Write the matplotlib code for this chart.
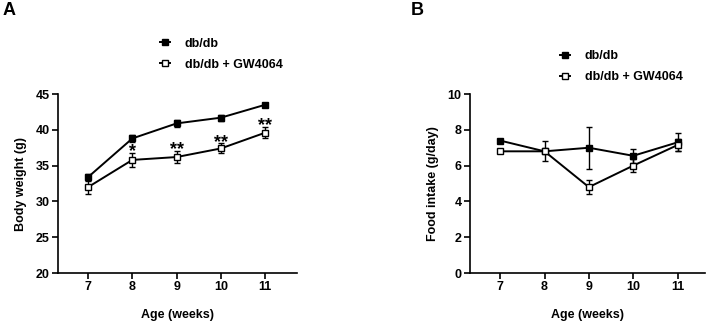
import numpy as np
import matplotlib.pyplot as plt
from matplotlib.lines import Line2D

plt.rcParams['font.family'] = ['Liberation Sans', 'DejaVu Sans']
plt.rcParams['font.weight'] = 'bold'

weeks = [7, 8, 9, 10, 11]

# body weight (g)
bw_db = [33.4, 38.8, 40.9, 41.7, 43.5]
bw_db_err = [0.5, 0.5, 0.5, 0.4, 0.3]
bw_gw = [32.0, 35.8, 36.2, 37.4, 39.6]
bw_gw_err = [1.0, 1.0, 0.8, 0.7, 0.8]
bw_stars = ['', '*', '**', '**', '**']

# food intake (g/day)
fi_db = [7.4, 6.8, 7.0, 6.55, 7.3]
fi_db_err = [0.0, 0.55, 1.17, 0.4, 0.5]
fi_gw = [6.8, 6.8, 4.8, 6.0, 7.15]
fi_gw_err = [0.0, 0.1, 0.4, 0.35, 0.35]

fig = plt.figure(figsize=(7.10, 3.21), dpi=100)
axA = fig.add_axes([0.0817, 0.1495, 0.3366, 0.5575])
axB = fig.add_axes([0.662, 0.1495, 0.331, 0.5575])

ms = 5


def draw(ax, y1, e1, y2, e2):
    ax.errorbar(weeks, y1, yerr=e1, color='black', marker='s', markersize=ms,
                markerfacecolor='black', linewidth=1.4, elinewidth=1.0,
                capsize=2.5, capthick=1.0, zorder=3)
    ax.errorbar(weeks, y2, yerr=e2, color='black', marker='s', markersize=ms,
                markerfacecolor='white', markeredgewidth=1.0, linewidth=1.4,
                elinewidth=1.0, capsize=2.5, capthick=1.0, zorder=4)
    for s in ['top', 'right']:
        ax.spines[s].set_visible(False)
    for s in ['left', 'bottom']:
        ax.spines[s].set_linewidth(1.2)
    ax.tick_params(width=1.2, length=4, labelsize=9, pad=2)
    ax.set_xticks(weeks)
    for lab in ax.get_xticklabels() + ax.get_yticklabels():
        lab.set_fontweight('bold')
    ax.set_xlabel('Age (weeks)', fontsize=9, fontweight='bold', labelpad=11)


handles = [
    Line2D([], [], color='black', marker='s', markersize=4,
           markerfacecolor='black', linewidth=1.4),
    Line2D([], [], color='black', marker='s', markersize=4.5,
           markerfacecolor='white', markeredgewidth=1.0, linewidth=1.4),
]
labels = ['db/db', 'db/db + GW4064']
leg_kw = dict(loc='lower left', frameon=False, fontsize=9, handlelength=0.8,
              handletextpad=1.2, labelspacing=0.7, borderaxespad=0)

draw(axA, bw_db, bw_db_err, bw_gw, bw_gw_err)
axA.set_xlim(6.32, 11.72)
axA.set_ylim(20, 45)
axA.set_yticks([20, 25, 30, 35, 40, 45])
axA.set_ylabel('Body weight (g)', fontsize=9, fontweight='bold', labelpad=6)
for x, y, e, s in zip(weeks, bw_gw, bw_gw_err, bw_stars):
    if s:
        axA.text(x, y + e - 0.45, s, ha='center', va='baseline', fontsize=13,
                 fontweight='bold', zorder=6)
axA.legend(handles, labels, bbox_to_anchor=(0.405, 1.103), **leg_kw)

draw(axB, fi_db, fi_db_err, fi_gw, fi_gw_err)
axB.set_xlim(6.32, 11.62)
axB.set_ylim(0, 10)
axB.set_yticks([0, 2, 4, 6, 8, 10])
axB.set_ylabel('Food intake (g/day)', fontsize=9, fontweight='bold', labelpad=6)
axB.legend(handles, labels, bbox_to_anchor=(0.361, 1.033), **leg_kw)

fig.text(0.003, 0.995, 'A', fontsize=13, fontweight='bold', va='top')
fig.text(0.578, 0.995, 'B', fontsize=13, fontweight='bold', va='top')

fig.savefig('out.png', dpi=100)
